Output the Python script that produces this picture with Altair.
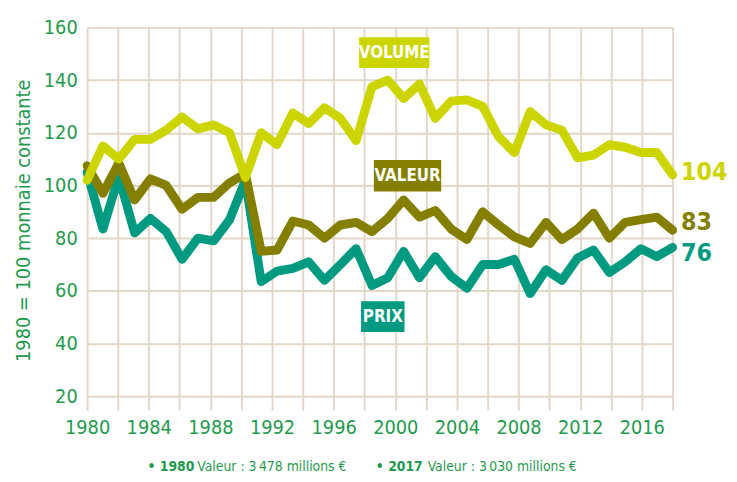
import altair as alt
import pandas as pd

# ---------------- data ----------------
years = list(range(1980, 2018))
volume = [102, 115, 110, 117.5, 117.5, 121, 126, 121.5, 123, 120,
          103, 120, 115.5, 127.5, 123.5, 129.5, 125.5, 117, 137.5, 140,
          133, 138.5, 125.5, 132, 132.5, 130, 118.5, 112.5, 128, 123,
          121, 110.5, 111.5, 115.5, 114.5, 112.5, 112.5, 104]
valeur = [107.5, 97, 108.5, 94.5, 102.5, 100, 91, 95.5, 95.5, 101,
          104.5, 75, 75.5, 86.5, 85, 80, 85, 86, 82.5, 87.5,
          94.5, 88, 90.5, 83.5, 79.5, 90, 85, 80.5, 78, 86,
          79.5, 83.5, 89.5, 80, 86, 87, 88, 83]
prix = [105, 83.5, 103.5, 82, 87.5, 82.5, 72, 80, 79, 87,
        102, 63.5, 67.5, 68.5, 71, 64, 70, 76, 62, 65,
        75, 65, 73, 65.5, 61, 70, 70, 72, 59, 68,
        64, 72.5, 75.5, 67, 71, 76, 73, 76.5]

series_order = ["PRIX", "VALEUR", "VOLUME"]          # drawing order (volume on top)
series_colors = {"VOLUME": "#CDD500", "VALEUR": "#847F00", "PRIX": "#009A80"}

x_ticks = list(range(1980, 2019, 2))
y_ticks = list(range(20, 161, 20))

# annotation boxes (axis-scale units)
box_text = ["VOLUME", "VALEUR", "PRIX"]
box_x0 = [1997.65, 1998.61, 1997.78]
box_x1 = [2002.21, 2002.98, 2000.60]
box_y0 = [156.25, 109.70, 56.03]
box_y1 = [144.61, 97.69, 44.40]
box_tx = [1999.93, 2000.80, 1999.19]
box_ty = [150.43, 103.70, 50.21]

end_text = ["104", "83", "76"]
end_series = ["VOLUME", "VALEUR", "PRIX"]
end_x = [2018.55, 2018.55, 2018.55]
end_y = [105.2, 86.06, 74.42]

legend_bold = ["\u2022 1980", "\u2022 2017"]
legend_rest = ["Valeur : 3\u202f478 millions \u20ac", "Valeur : 3\u202f030 millions \u20ac"]
legend_bx = [1983.92, 1998.74]
legend_rx = [1987.15, 2002.1]
legend_y = [-7.0, -7.0]

# ---------------- styling ----------------
GREEN = "#1F9A4E"
GRID = "#E3D7C8"
FONT = "DejaVu Sans Condensed, DejaVu Sans, sans-serif"

x_axis_scale = alt.Scale(domain=[1980, 2018], nice=False, zero=False)
x_data_scale = alt.Scale(domain=[1980, 2017], nice=False, zero=False)
y_scale = alt.Scale(domain=[20, 160], nice=False, zero=False)

long = pd.DataFrame({
    "year": years * 3,
    "value": volume + valeur + prix,
    "series": ["VOLUME"] * len(years) + ["VALEUR"] * len(years) + ["PRIX"] * len(years),
})

# axis / grid layer
axis_layer = alt.Chart(pd.DataFrame({"x": [1980], "y": [20]})).mark_point(opacity=0).encode(
    x=alt.X("x:Q", scale=x_axis_scale,
            axis=alt.Axis(values=x_ticks, grid=True, gridColor=GRID, gridWidth=2,
                          ticks=True, tickColor=GRID, tickWidth=2, tickSize=14,
                          domain=False, labelExpr="datum.value % 4 == 0 ? datum.value : ''",
                          labelColor=GREEN, labelFont=FONT, labelFontSize=20,
                          labelPadding=8, labelFlush=False, title=None)),
    y=alt.Y("y:Q", scale=y_scale,
            axis=alt.Axis(values=y_ticks, grid=True, gridColor=GRID, gridWidth=2,
                          ticks=False, domain=False, labelColor=GREEN, labelFont=FONT,
                          labelFontSize=20, labelPadding=10,
                          title="1980 = 100 monnaie constante", titleColor=GREEN,
                          titleFont=FONT, titleFontSize=20, titleFontWeight="normal",
                          titlePadding=10, titleY=195)),
)

line_layers = []
for name in series_order:
    line_layers.append(
        alt.Chart(long).transform_filter(alt.datum.series == name).mark_line(
            color=series_colors[name], strokeWidth=9, strokeCap="round", strokeJoin="round"
        ).encode(
            x=alt.X("year:Q", scale=x_data_scale, axis=None),
            y=alt.Y("value:Q", scale=y_scale, axis=None),
        )
    )

boxes = pd.DataFrame({"text": box_text, "x0": box_x0, "x1": box_x1, "y0": box_y0,
                      "y1": box_y1, "tx": box_tx, "ty": box_ty})
color_scale = alt.Scale(domain=list(series_colors.keys()), range=list(series_colors.values()))
box_rect = alt.Chart(boxes).mark_rect().encode(
    x=alt.X("x0:Q", scale=x_axis_scale, axis=None), x2="x1:Q",
    y=alt.Y("y0:Q", scale=y_scale, axis=None), y2="y1:Q",
    color=alt.Color("text:N", scale=color_scale, legend=None),
)
box_label = alt.Chart(boxes).mark_text(
    color="white", font=FONT, fontSize=17, fontWeight="bold", align="center", baseline="middle"
).encode(
    x=alt.X("tx:Q", scale=x_axis_scale, axis=None),
    y=alt.Y("ty:Q", scale=y_scale, axis=None),
    text="text:N",
)

ends = pd.DataFrame({"text": end_text, "series": end_series, "x": end_x, "y": end_y})
end_label = alt.Chart(ends).mark_text(
    font=FONT, fontSize=25, fontWeight="bold", align="left", baseline="middle"
).encode(
    x=alt.X("x:Q", scale=x_axis_scale, axis=None),
    y=alt.Y("y:Q", scale=y_scale, axis=None),
    text="text:N",
    color=alt.Color("series:N", scale=color_scale, legend=None),
)

leg = pd.DataFrame({"bold": legend_bold, "rest": legend_rest, "bx": legend_bx,
                    "rx": legend_rx, "y": legend_y})
leg_bold = alt.Chart(leg).mark_text(
    font=FONT, fontSize=14, fontWeight="bold", color=GREEN, align="left", baseline="middle"
).encode(
    x=alt.X("bx:Q", scale=x_axis_scale, axis=None),
    y=alt.Y("y:Q", scale=y_scale, axis=None),
    text="bold:N",
)
leg_rest = alt.Chart(leg).mark_text(
    font=FONT, fontSize=14, color=GREEN, align="left", baseline="middle"
).encode(
    x=alt.X("rx:Q", scale=x_axis_scale, axis=None),
    y=alt.Y("y:Q", scale=y_scale, axis=None),
    text="rest:N",
)

chart = alt.layer(
    axis_layer, *line_layers, box_rect, box_label, end_label, leg_bold, leg_rest
).resolve_scale(
    x="independent", y="independent", color="independent"
).properties(
    width=592, height=373,
    padding={"left": 80, "top": 17, "right": 57, "bottom": 76},
    autosize=alt.AutoSizeParams(type="none"),
    background="white",
).configure_view(stroke=None)

chart.save("out.html", embed_options={"renderer": "svg", "actions": False})
